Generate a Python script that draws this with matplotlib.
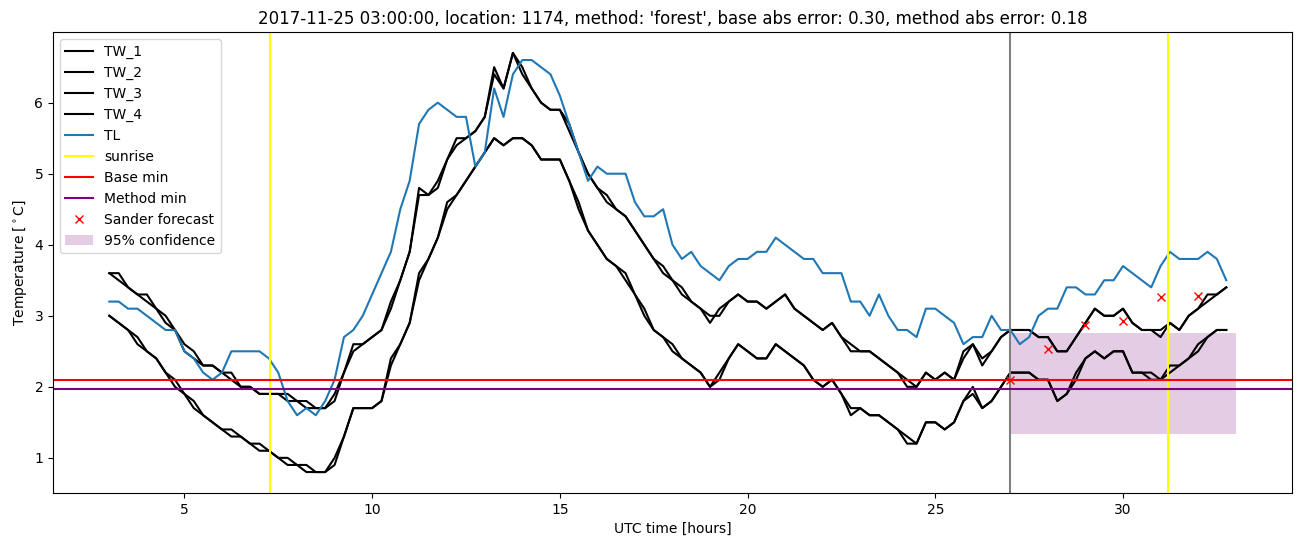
import numpy as np
import matplotlib
matplotlib.use("Agg")
import matplotlib.pyplot as plt

# time axis (hours UTC), 15-minute samples
hours = np.arange(3.0, 33.0, 0.25)

tw_1 = [3.6, 3.5, 3.4, 3.3, 3.2, 3.1, 2.9, 2.8,
        2.5, 2.4, 2.3, 2.3, 2.2, 2.1, 2.0, 2.0,
        1.9, 1.9, 1.9, 1.8, 1.8, 1.7, 1.7, 1.7,
        1.9, 2.2, 2.6, 2.6, 2.7, 2.8, 3.2, 3.5,
        3.9, 4.8, 4.7, 4.9, 5.2, 5.5, 5.5, 5.6,
        5.8, 6.5, 6.2, 6.7, 6.4, 6.2, 6.0, 5.9,
        5.9, 5.6, 5.3, 5.0, 4.8, 4.6, 4.5, 4.4,
        4.2, 4.0, 3.8, 3.6, 3.5, 3.3, 3.2, 3.1,
        2.9, 3.1, 3.2, 3.3, 3.2, 3.2, 3.1, 3.2,
        3.3, 3.1, 3.0, 2.9, 2.8, 2.9, 2.7, 2.5,
        2.5, 2.5, 2.4, 2.3, 2.2, 2.0, 2.0, 2.2,
        2.1, 2.2, 2.1, 2.5, 2.6, 2.3, 2.5, 2.7,
        2.8, 2.8, 2.8, 2.7, 2.7, 2.5, 2.5, 2.7,
        2.9, 3.1, 3.0, 3.0, 3.1, 2.9, 2.8, 2.8,
        2.7, 2.9, 2.8, 3.0, 3.1, 3.3, 3.3, 3.4]

tw_2 = [3.6, 3.6, 3.4, 3.3, 3.3, 3.1, 3.0, 2.8,
        2.6, 2.5, 2.3, 2.3, 2.2, 2.2, 2.0, 2.0,
        1.9, 1.9, 1.9, 1.9, 1.8, 1.8, 1.7, 1.7,
        1.8, 2.2, 2.5, 2.6, 2.7, 2.8, 3.1, 3.5,
        3.9, 4.7, 4.7, 4.8, 5.2, 5.4, 5.5, 5.6,
        5.8, 6.4, 6.2, 6.7, 6.5, 6.2, 6.0, 5.9,
        5.9, 5.7, 5.3, 5.0, 4.8, 4.7, 4.5, 4.4,
        4.2, 4.0, 3.8, 3.7, 3.5, 3.4, 3.2, 3.1,
        3.0, 3.0, 3.2, 3.3, 3.2, 3.2, 3.1, 3.2,
        3.3, 3.1, 3.0, 2.9, 2.8, 2.9, 2.7, 2.6,
        2.5, 2.5, 2.4, 2.3, 2.2, 2.1, 2.0, 2.2,
        2.1, 2.2, 2.1, 2.4, 2.6, 2.4, 2.5, 2.7,
        2.8, 2.8, 2.8, 2.7, 2.7, 2.5, 2.5, 2.7,
        2.9, 3.1, 3.0, 3.0, 3.1, 2.9, 2.8, 2.8,
        2.8, 2.9, 2.8, 3.0, 3.1, 3.2, 3.3, 3.4]

tw_3 = [3.0, 2.9, 2.8, 2.6, 2.5, 2.4, 2.2, 2.0,
        1.9, 1.7, 1.6, 1.5, 1.4, 1.3, 1.3, 1.2,
        1.1, 1.1, 1.0, 0.9, 0.9, 0.8, 0.8, 0.8,
        1.0, 1.3, 1.7, 1.7, 1.7, 1.8, 2.4, 2.6,
        2.9, 3.6, 3.8, 4.1, 4.6, 4.7, 4.9, 5.1,
        5.3, 5.5, 5.4, 5.5, 5.5, 5.4, 5.2, 5.2,
        5.2, 4.9, 4.5, 4.2, 4.0, 3.8, 3.7, 3.5,
        3.3, 3.0, 2.8, 2.7, 2.5, 2.4, 2.3, 2.2,
        2.0, 2.2, 2.4, 2.6, 2.5, 2.4, 2.4, 2.6,
        2.5, 2.4, 2.3, 2.1, 2.0, 2.1, 1.9, 1.6,
        1.7, 1.6, 1.6, 1.5, 1.4, 1.2, 1.2, 1.5,
        1.5, 1.4, 1.5, 1.8, 2.0, 1.7, 1.8, 2.0,
        2.2, 2.2, 2.2, 2.1, 2.1, 1.8, 1.9, 2.2,
        2.4, 2.5, 2.4, 2.5, 2.5, 2.2, 2.2, 2.1,
        2.1, 2.3, 2.3, 2.4, 2.6, 2.7, 2.8, 2.8]

tw_4 = [3.0, 2.9, 2.8, 2.7, 2.5, 2.4, 2.2, 2.1,
        1.9, 1.8, 1.6, 1.5, 1.4, 1.4, 1.3, 1.2,
        1.2, 1.1, 1.0, 1.0, 0.9, 0.9, 0.8, 0.8,
        0.9, 1.3, 1.7, 1.7, 1.7, 1.8, 2.3, 2.6,
        2.9, 3.5, 3.8, 4.1, 4.5, 4.7, 4.9, 5.1,
        5.3, 5.5, 5.4, 5.5, 5.5, 5.4, 5.2, 5.2,
        5.2, 4.9, 4.6, 4.2, 4.0, 3.8, 3.7, 3.6,
        3.3, 3.1, 2.8, 2.7, 2.6, 2.4, 2.3, 2.2,
        2.0, 2.1, 2.4, 2.6, 2.5, 2.4, 2.4, 2.6,
        2.5, 2.4, 2.3, 2.1, 2.0, 2.1, 1.9, 1.7,
        1.7, 1.6, 1.6, 1.5, 1.4, 1.3, 1.2, 1.5,
        1.5, 1.4, 1.5, 1.8, 1.9, 1.7, 1.8, 2.0,
        2.2, 2.2, 2.2, 2.1, 2.1, 1.8, 1.9, 2.1,
        2.4, 2.5, 2.4, 2.5, 2.5, 2.2, 2.2, 2.2,
        2.1, 2.2, 2.3, 2.4, 2.5, 2.7, 2.8, 2.8]

tl = [3.2, 3.2, 3.1, 3.1, 3.0, 2.9, 2.8, 2.8,
      2.5, 2.4, 2.2, 2.1, 2.2, 2.5, 2.5, 2.5,
      2.5, 2.4, 2.2, 1.8, 1.6, 1.7, 1.6, 1.8,
      2.1, 2.7, 2.8, 3.0, 3.3, 3.6, 3.9, 4.5,
      4.9, 5.7, 5.9, 6.0, 5.9, 5.8, 5.8, 5.1,
      5.3, 6.2, 5.8, 6.4, 6.6, 6.6, 6.5, 6.4,
      6.1, 5.7, 5.3, 4.9, 5.1, 5.0, 5.0, 5.0,
      4.6, 4.4, 4.4, 4.5, 4.0, 3.8, 3.9, 3.7,
      3.6, 3.5, 3.7, 3.8, 3.8, 3.9, 3.9, 4.1,
      4.0, 3.9, 3.8, 3.8, 3.6, 3.6, 3.6, 3.2,
      3.2, 3.0, 3.3, 3.0, 2.8, 2.8, 2.7, 3.1,
      3.1, 3.0, 2.9, 2.6, 2.7, 2.7, 3.0, 2.8,
      2.8, 2.6, 2.7, 3.0, 3.1, 3.1, 3.4, 3.4,
      3.3, 3.3, 3.5, 3.5, 3.7, 3.6, 3.5, 3.4,
      3.7, 3.9, 3.8, 3.8, 3.8, 3.9, 3.8, 3.5]

sunrise_hours = [7.27, 31.2]
forecast_start = 27.0
base_min = 2.10
method_min = 1.97
sander_hours = [27, 28, 29, 30, 31, 32]
sander_values = [2.09, 2.53, 2.87, 2.93, 3.26, 3.28]
conf_hours = [27, 33]
conf_low = [1.33, 1.33]
conf_high = [2.76, 2.76]

fig, ax = plt.subplots(figsize=(13.02, 5.47), dpi=100)
fig.subplots_adjust(left=0.0407, right=0.9923, bottom=0.0987, top=0.9415)

for name, vals in [("TW_1", tw_1), ("TW_2", tw_2), ("TW_3", tw_3), ("TW_4", tw_4)]:
    ax.plot(hours, vals, color="black", label=name)
ax.plot(hours, tl, color="tab:blue", label="TL")
for i, s in enumerate(sunrise_hours):
    ax.axvline(s, color="yellow", label="sunrise" if i == 0 else None)
ax.axvline(forecast_start, color="gray")
ax.axhline(base_min, color="red", label="Base min")
ax.axhline(method_min, color="purple", label="Method min")
ax.plot(sander_hours, sander_values, "x", color="red", linestyle="none",
        label="Sander forecast")
ax.fill_between(conf_hours, conf_low, conf_high, color="purple", alpha=0.2,
                linewidth=0, label="95% confidence")

ax.set_xlabel("UTC time [hours]")
ax.set_ylabel(r"Temperature [$^\circ$C]")
ax.set_title("2017-11-25 03:00:00, location: 1174, method: 'forest', "
             "base abs error: 0.30, method abs error: 0.18")
ax.legend(loc="upper left")

fig.savefig("out.png", dpi=100)
